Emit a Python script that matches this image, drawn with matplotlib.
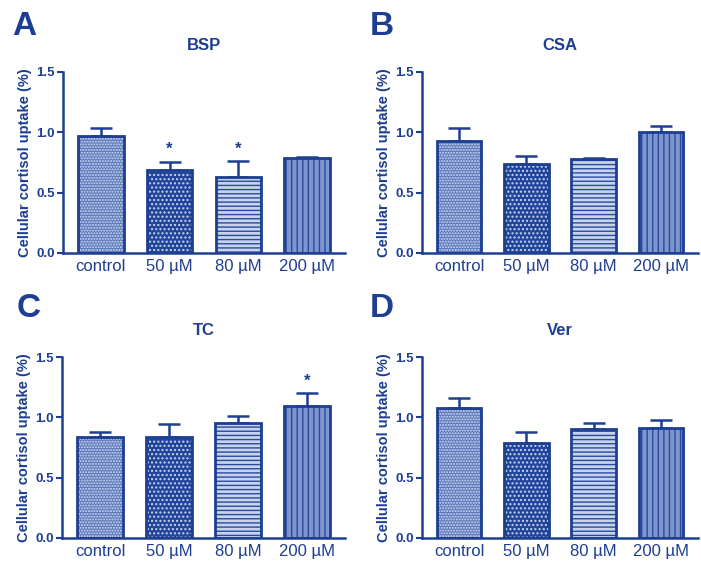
import matplotlib
matplotlib.use('Agg')
import matplotlib.pyplot as plt
import numpy as np

plt.rcParams['font.family'] = ['Liberation Sans', 'DejaVu Sans']
plt.rcParams['hatch.linewidth'] = 1.0

navy = '#1d3e91'

groups = ['control', '50 µM', '80 µM', '200 µM']

bsp_mean = [0.97, 0.69, 0.63, 0.79]
bsp_err = [0.07, 0.065, 0.13, 0.005]
csa_mean = [0.93, 0.74, 0.78, 1.00]
csa_err = [0.11, 0.06, 0.01, 0.055]
tc_mean = [0.835, 0.835, 0.95, 1.09]
tc_err = [0.045, 0.11, 0.065, 0.11]
ver_mean = [1.075, 0.785, 0.905, 0.915]
ver_err = [0.085, 0.095, 0.05, 0.06]

bsp_star = [1, 2]
csa_star = []
tc_star = [3]
ver_star = []

# (face colour, hatch colour, hatch) per group
fills = [('#5a76bb', '#d3dcf0', '......'),
         ('#22449a', '#c9d5ef', '....'),
         ('#c7d2ec', '#2a4a9c', '----'),
         ('#7e96cd', '#2a4a9c', '|||')]

panels = [
    ('A', 'BSP', bsp_mean, bsp_err, bsp_star, [63, 345, 72, 253], (12, 35)),
    ('B', 'CSA', csa_mean, csa_err, csa_star, [422, 698, 72, 253], (370, 35)),
    ('C', 'TC', tc_mean, tc_err, tc_star, [62, 345, 357, 538], (17, 317)),
    ('D', 'Ver', ver_mean, ver_err, ver_star, [422, 698, 357, 538], (370, 317)),
]

W, H = 701, 562
fig = plt.figure(figsize=(W / 100, H / 100), dpi=100)

for letter, title, mean, err, stars, (x0, x1, y0, y1), (lx, ly) in panels:
    ax = fig.add_axes([x0 / W, 1 - y1 / H, (x1 - x0) / W, (y1 - y0) / H])
    x = np.arange(len(groups))
    for i in range(len(groups)):
        fc, hc, hatch = fills[i]
        ax.bar(x[i], mean[i], width=0.66, color=fc, edgecolor=hc,
               hatch=hatch, linewidth=0, zorder=2)
        ax.bar(x[i], mean[i], width=0.66, fill=False, edgecolor=navy,
               linewidth=2, zorder=3)
    ax.errorbar(x, mean, yerr=[np.zeros(len(err)), err], fmt='none',
                ecolor=navy, elinewidth=1.8, capsize=8, capthick=1.8, zorder=1)
    for i in stars:
        ax.text(x[i], mean[i] + err[i] + 0.04, '*', ha='center', va='bottom',
                color=navy, fontsize=12, fontweight='bold')

    ax.set_xlim(-0.55, 3.55)
    ax.set_ylim(0, 1.5)
    ax.set_yticks([0, 0.5, 1.0, 1.5])
    ax.set_yticklabels(['0.0', '0.5', '1.0', '1.5'])
    ax.set_xticks(x)
    ax.set_xticklabels(groups)
    for s in ['top', 'right']:
        ax.spines[s].set_visible(False)
    for s in ['left', 'bottom']:
        ax.spines[s].set_color(navy)
        ax.spines[s].set_linewidth(1.8)
    ax.tick_params(axis='y', colors=navy, length=4, width=1.5, labelsize=9.5, pad=2)
    ax.tick_params(axis='x', colors=navy, length=0, labelsize=12, pad=4)
    for lab in ax.get_yticklabels():
        lab.set_fontweight('bold')
    ax.set_ylabel('Cellular cortisol uptake (%)', color=navy, fontsize=10.5,
                  fontweight='bold', labelpad=3)
    ax.set_title(title, color=navy, fontsize=12, fontweight='bold', pad=16)
    fig.text(lx / W, 1 - ly / H, letter, color=navy, fontsize=24,
             fontweight='bold', va='baseline', ha='left')

fig.savefig('out.png', dpi=100)
